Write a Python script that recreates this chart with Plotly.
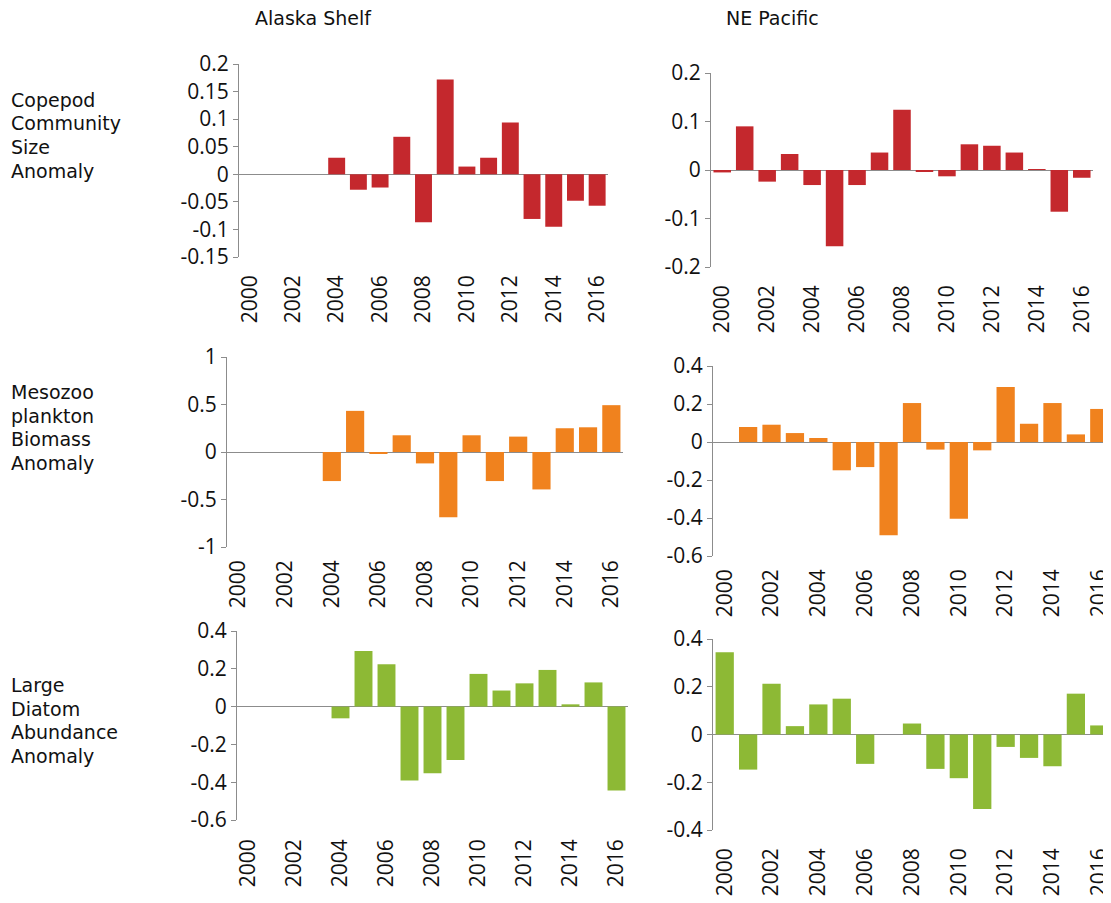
"""Zooplankton and diatom anomalies, Alaska Shelf vs NE Pacific."""

import plotly.graph_objects as go

# Years on the x-axis and the labelled ticks
years = list(range(2000, 2017))
year_ticks = list(range(2000, 2017, 2))

# Copepod community size anomaly
ak_copepod = [None, None, None, None, 0.030, -0.028, -0.024, 0.068, -0.087,
              0.172, 0.014, 0.030, 0.094, -0.081, -0.095, -0.048, -0.057]
nep_copepod = [-0.005, 0.090, -0.024, 0.033, -0.031, -0.157, -0.031, 0.036,
               0.124, -0.004, -0.013, 0.053, 0.050, 0.036, 0.002, -0.086,
               -0.016]

# Mesozooplankton biomass anomaly
ak_mesozoo = [None, None, None, None, -0.306, 0.433, -0.02, 0.176, -0.12,
              -0.687, 0.176, -0.306, 0.162, -0.394, 0.25, 0.26, 0.493]
nep_mesozoo = [0.0, 0.079, 0.091, 0.047, 0.021, -0.149, -0.132, -0.491,
               0.205, -0.04, -0.404, -0.044, 0.289, 0.096, 0.205, 0.040,
               0.174]

# Large diatom abundance anomaly
ak_diatom = [None, None, None, None, -0.062, 0.294, 0.224, -0.391, -0.352,
             -0.282, 0.173, 0.085, 0.123, 0.194, 0.012, 0.128, -0.444]
nep_diatom = [0.345, -0.147, 0.213, 0.035, 0.126, 0.150, -0.123, 0.0, 0.046,
              -0.144, -0.183, -0.312, -0.052, -0.098, -0.133, 0.171, 0.038]

# Y tick values per panel
ticks_ak_copepod = [-0.15, -0.1, -0.05, 0, 0.05, 0.1, 0.15, 0.2]
ticks_nep_copepod = [-0.2, -0.1, 0, 0.1, 0.2]
ticks_ak_mesozoo = [-1, -0.5, 0, 0.5, 1]
ticks_nep_mesozoo = [-0.6, -0.4, -0.2, 0, 0.2, 0.4]
ticks_ak_diatom = [-0.6, -0.4, -0.2, 0, 0.2, 0.4]
ticks_nep_diatom = [-0.4, -0.2, 0, 0.2, 0.4]

col_titles = ["Alaska Shelf", "NE Pacific"]
row_labels = [["Copepod", "Community", "Size", "Anomaly"],
              ["Mesozoo", "plankton", "Biomass", "Anomaly"],
              ["Large", "Diatom", "Abundance", "Anomaly"]]

# The page body adds an 8px margin, so the figure is that much smaller
# and positions below are given in window pixels, then shifted back
OFF = 8
W, H = 1111 - OFF, 903 - OFF


def px_x(x):
    return (x - OFF) / W


def px_y(y):
    return 1 - (y - OFF) / H


RED, ORANGE, GREEN = "#C4282D", "#F0821E", "#8DB935"
AXIS_GREY = "#8c8c8c"
TICK_FONT = dict(family="Open Sans", size=21, color="#111111")
TEXT_FONT = dict(family="DejaVu Sans", size=19, color="#111111")

# data, colour, y ticks, x pixel span, y pixel span (top, bottom),
# gap between plot bottom and year labels
panels = [
    (ak_copepod, RED, ticks_ak_copepod, (239, 608), (64, 257), 13),
    (nep_copepod, RED, ticks_nep_copepod, (711, 1093), (73, 267), 13),
    (ak_mesozoo, ORANGE, ticks_ak_mesozoo, (227, 623), (357, 547), 8),
    (nep_mesozoo, ORANGE, ticks_nep_mesozoo, (713, 1111), (366, 556), 8),
    (ak_diatom, GREEN, ticks_ak_diatom, (237, 628), (631, 820), 14),
    (nep_diatom, GREEN, ticks_nep_diatom, (713, 1111), (639, 830), 13),
]

fig = go.Figure()
layout = {}

for i, (vals, color, yticks, (x0, x1), (top, bottom), standoff) in \
        enumerate(panels, 1):
    fig.add_trace(go.Bar(x=years, y=vals, marker_color=color,
                         marker_line_width=0, width=0.78,
                         xaxis=f"x{i}", yaxis=f"y{i}", showlegend=False))

    # Labels at the right edge run off the page as in the original,
    # so keep automargin off and let them overflow
    layout[f"xaxis{i}"] = dict(domain=[px_x(x0), min(px_x(x1), 1)],
                               range=[1999.5, 2016.5],
                               anchor=f"y{i}", tickvals=year_ticks,
                               ticktext=[str(t) for t in year_ticks],
                               tickangle=-90, tickfont=TICK_FONT,
                               ticklabelstandoff=standoff,
                               showline=False, showgrid=False,
                               zeroline=False, ticks="", automargin=False,
                               ticklabeloverflow="allow")
    layout[f"yaxis{i}"] = dict(domain=[px_y(bottom), px_y(top)],
                               range=[yticks[0], yticks[-1]],
                               anchor=f"x{i}", tickvals=yticks,
                               ticktext=[f"{v:g}" for v in yticks],
                               tickfont=TICK_FONT, showline=True,
                               linecolor=AXIS_GREY, linewidth=1,
                               ticks="outside", ticklen=5,
                               tickcolor=AXIS_GREY, showgrid=False,
                               zeroline=True, zerolinecolor=AXIS_GREY,
                               zerolinewidth=1, automargin=False)

# Column titles and row labels
annotations = []
for title, xc in zip(col_titles, [313, 772]):
    annotations.append(dict(text=title, x=px_x(xc), y=px_y(18),
                            xref="paper", yref="paper", showarrow=False,
                            xanchor="center", yanchor="middle",
                            font=TEXT_FONT))

for lines, y_first in zip(row_labels, [100, 392, 685]):
    for k, line in enumerate(lines):
        annotations.append(dict(text=line, x=px_x(9),
                                y=px_y(y_first + 23.5 * k),
                                xref="paper", yref="paper", showarrow=False,
                                xanchor="left", yanchor="middle",
                                font=TEXT_FONT))

fig.update_layout(**layout)
fig.update_layout(width=W, height=H, autosize=False,
                  margin=dict(l=0, r=0, t=0, b=0),
                  paper_bgcolor="white", plot_bgcolor="white",
                  bargap=0.2, annotations=annotations)

fig.write_html("out.html")
